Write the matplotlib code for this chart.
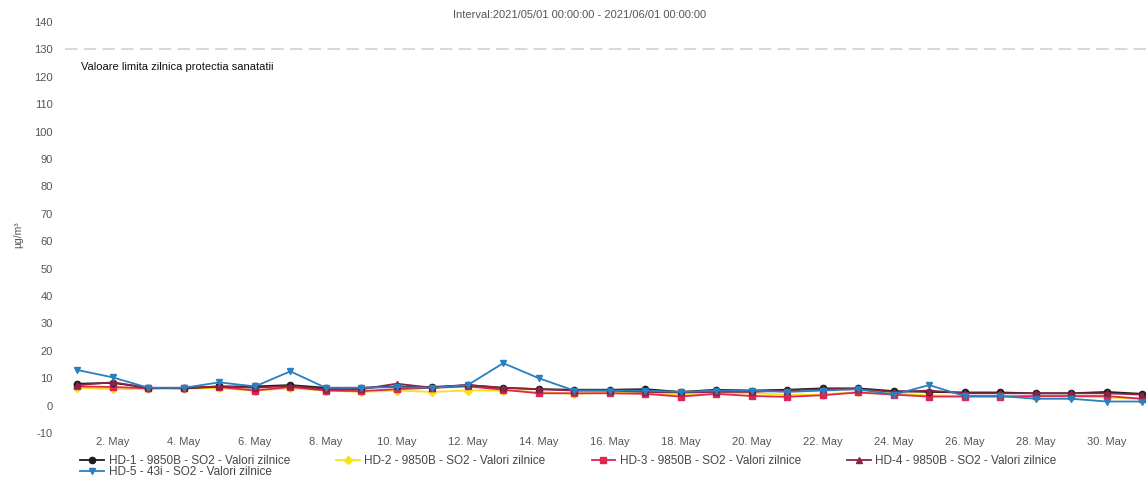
import matplotlib.pyplot as plt
import numpy as np

# Daily SO2 values, May 2021 (ug/m3)
days = list(range(1, 32))
hd1 = [8, 8.3, 6.5, 6.3, 7, 7, 7.5, 6.5, 6.5, 7, 6.8, 7.5, 6.5, 6, 5.8, 5.8,
       6, 5, 5.8, 5.5, 5.8, 6.3, 6.3, 5.3, 5, 4.8, 4.8, 4.5, 4.5, 5, 4.3]
hd2 = [6.5, 6, 6, 6.2, 6.3, 5.5, 6.3, 5.5, 5, 5.5, 5, 5.5, 5.5, 5, 4.3, 4.8,
       4.5, 4, 4.5, 4.5, 4, 4, 5, 4.5, 3.8, 3.5, 3.5, 3.3, 3.3, 3, 2.5]
hd3 = [7, 6.8, 6.3, 6.5, 6.8, 5.5, 6.8, 5.5, 5.3, 6, 6.5, 7, 5.8, 4.5, 4.5, 4.5,
       4.3, 3.3, 4.3, 3.5, 3.2, 3.8, 4.8, 4, 3.3, 3.3, 3.3, 3.5, 3.5, 3.5, 2.5]
hd4 = [7.5, 8.5, 6.5, 6.5, 7, 6.5, 7.2, 6, 6, 8, 6.5, 7.5, 6.5, 6, 5.5, 5.5,
       5, 4.8, 5, 5, 5.5, 6, 6, 5, 5.5, 4.5, 4.5, 4.5, 4.5, 4.5, 4]
hd5 = [13, 10.3, 6.5, 6.5, 8.5, 7, 12.5, 6.5, 6.5, 6.8, 6.5, 7.5, 15.5, 10, 5.5, 5.5,
       5.5, 5, 5.5, 5.5, 5, 5.5, 6, 4, 7.5, 3.5, 3.5, 2.5, 2.5, 1.5, 1.5]

labels = ['HD-1 - 9850B - SO2 - Valori zilnice',
          'HD-2 - 9850B - SO2 - Valori zilnice',
          'HD-3 - 9850B - SO2 - Valori zilnice',
          'HD-4 - 9850B - SO2 - Valori zilnice',
          'HD-5 - 43i - SO2 - Valori zilnice']
limit_value = 130
tick_days = list(range(2, 31, 2))
tick_labels = [f'{d}. May' for d in tick_days]

plt.rcParams['font.family'] = ['Liberation Sans', 'DejaVu Sans']

fig = plt.figure(figsize=(11.46, 4.79), dpi=100)
ax = fig.add_axes([0.057, 0.096, 0.943, 0.858])

series = [
    (hd1, '#1c1c1c', 'o'),
    (hd2, '#f5e21a', 'D'),
    (hd3, '#e0264f', 's'),
    (hd4, '#8e2345', '^'),
    (hd5, '#2a7fbf', 'v'),
]
# draw yellow first so the others sit on top, as in the scan
order = [1, 2, 0, 3, 4]
handles = [None] * 5
for i in order:
    vals, col, mk = series[i]
    h, = ax.plot(days, vals, color=col, marker=mk, markersize=4.5, linewidth=1.3,
                 label=labels[i])
    handles[i] = h

# daily limit line
ax.axhline(limit_value, color='#d9d9d9', linewidth=1.5, linestyle=(0, (6, 3)))
ax.text(1.1, 123.5, 'Valoare limita zilnica protectia sanatatii', fontsize=8,
        color='#111111', va='center', ha='left')

ax.set_xlim(0.66, 31.11)
ax.set_ylim(-10, 140)
ax.set_yticks(range(-10, 141, 10))
ax.set_yticklabels([str(v) for v in range(-10, 141, 10)])
ax.set_xticks(tick_days)
ax.set_xticklabels(tick_labels)
ax.tick_params(axis='both', length=0, labelsize=8, colors='#555555')
ax.tick_params(axis='y', pad=9)
ax.tick_params(axis='x', pad=3)
for s in ax.spines.values():
    s.set_visible(False)

fig.text(0.016, 0.51, 'µg/m³', rotation=90, fontsize=7.5, color='#555555',
         va='center', ha='center')
fig.text(0.506, 0.968, 'Interval:2021/05/01 00:00:00 - 2021/06/01 00:00:00',
         fontsize=8, color='#555555', ha='center', va='center')

# legend filled column-wise: put HD-5 under HD-1
leg_order = [0, 4, 1, 2, 3]
fig.legend(handles=[handles[i] for i in leg_order],
           labels=[labels[i] for i in leg_order], ncol=4, loc='lower left',
           bbox_to_anchor=(0.064, -0.012), frameon=False, fontsize=8.5,
           labelspacing=-0.1, columnspacing=3.9, handlelength=2.0,
           handletextpad=0.4, borderpad=0.1, labelcolor='#444444')

fig.savefig('out.png', dpi=100)
